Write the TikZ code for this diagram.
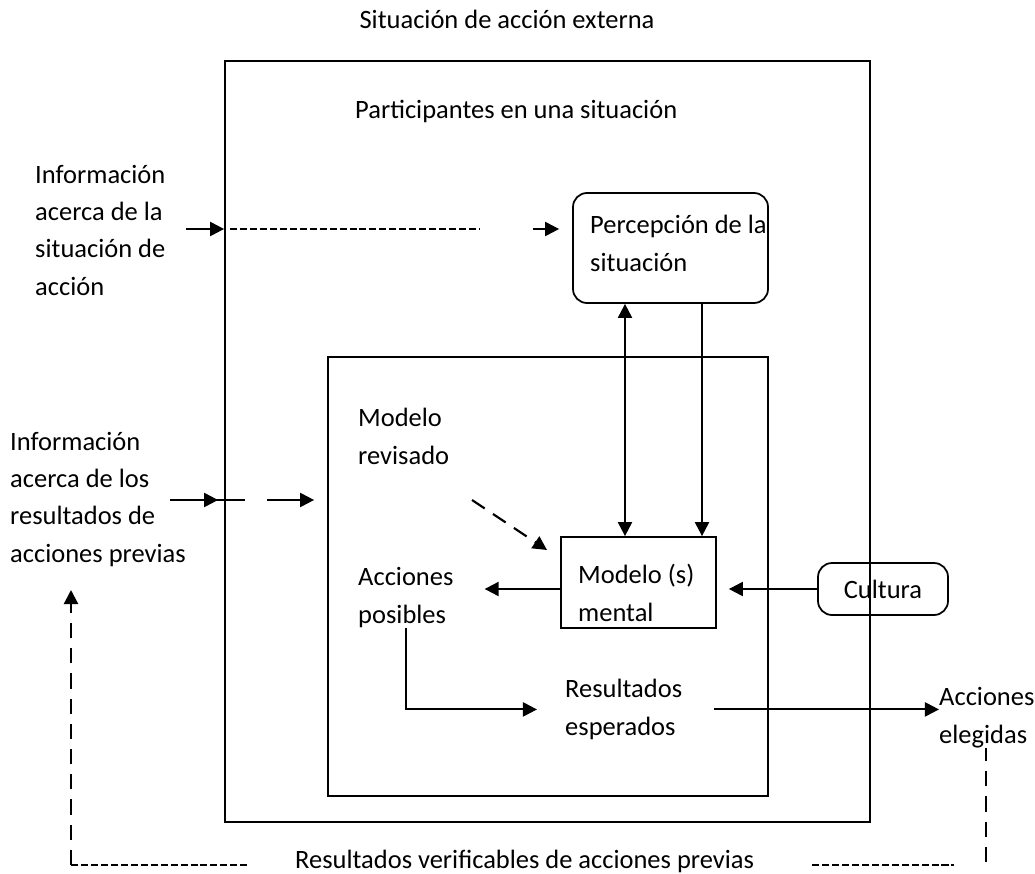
\documentclass[tikz,border=0pt]{standalone}
\usepackage{fontspec}
\setmainfont{Carlito}
\usepackage{tikz}
\usetikzlibrary{arrows.meta}
\newcommand{\diagfont}{\fontsize{22.6}{31.6}\selectfont}
\tikzstyle{box} = [rectangle, draw=black, line width=1.5pt, inner sep=0pt]
\tikzstyle{roundbox} = [box, rounded corners=12pt]
\tikzstyle{txt} = [inner sep=0pt, align=left, anchor=base west, font=\diagfont]
\tikzstyle{arrow} = [line width=1.8pt, -{Triangle[length=12pt, width=12pt]}]
\tikzstyle{dblarrow} = [line width=1.8pt, {Triangle[length=12pt, width=12pt]}-{Triangle[length=12pt, width=12pt]}]
\tikzstyle{shortdash} = [line width=1.2pt, dash pattern=on 6pt off 2.5pt]
\tikzstyle{longdash} = [line width=1.6pt, dash pattern=on 13pt off 8.5pt]

\begin{document}
\begin{tikzpicture}[x=0.03cm, y=-0.03cm]
	\useasboundingbox (0,0) rectangle (1035,874);
	% boxes
	\node (outer) [box, minimum width=19.35cm, minimum height=22.83cm] at (547.5,441.5) {};
	\node (inner) [box, minimum width=13.2cm, minimum height=13.17cm] at (548,576.5) {};
	\node (percep) [roundbox, minimum width=5.85cm, minimum height=3.3cm] at (670.5,248) {};
	\node (modelo) [box, minimum width=4.65cm, minimum height=2.73cm] at (638.5,582.5) {};
	\node (cultura) [roundbox, minimum width=3.9cm, minimum height=1.56cm, font=\diagfont] at (883,589) {Cultura};
	% texts (base = last line)
	\node (title) [txt, anchor=base] at (507,29) {Situación de acción externa};
	\node (partic) [txt] at (355,119) {Participantes en una situación};
	\node (infoSit) [txt] at (35,295) {Información\\acerca de la\\situación de\\acción};
	\node (infoRes) [txt] at (10,562) {Información\\acerca de los\\resultados de\\acciones previas};
	\node (percepTxt) [txt] at (590,271) {Percepción de la\\situación};
	\node (revisado) [txt] at (358,464) {Modelo\\revisado};
	\node (modeloTxt) [txt] at (578,621) {Modelo (s)\\mental};
	\node (posibles) [txt] at (358,623) {Acciones\\posibles};
	\node (esperados) [txt] at (565,735) {Resultados\\esperados};
	\node (elegidas) [txt] at (939,743) {Acciones\\elegidas};
	\node (verif) [txt] at (295,868) {Resultados verificables de acciones previas};
	% free ends
	\coordinate (inA) at (186,229);
	\coordinate (dA) at (230,229);
	\coordinate (dB) at (480,229);
	\coordinate (inB) at (533,229);
	\coordinate (inC) at (170,500);
	\coordinate (inD) at (245,500);
	\coordinate (inE) at (267,500);
	\coordinate (xa) at (625,0);
	\coordinate (xb) at (702,0);
	\coordinate (row) at (0,589);
	\coordinate (revTail) at (472,500);
	\coordinate (revHead) at (547,550);
	\coordinate (fbL) at (71,865);
	\coordinate (fbLtop) at (71,590);
	\coordinate (fbLend) at (247,865);
	\coordinate (fbR) at (986,862);
	\coordinate (fbRa) at (812,865);
	\coordinate (fbRb) at (954,865);
	% information in
	\draw [arrow] (inA) -- (inA -| outer.west);
	\draw [shortdash] (dA) -- (dB);
	\draw [arrow, shorten >=0.39cm] (inB) -- (inB -| percep.west);
	\draw [line width=1pt] (inC) -- (inD);
	\draw [arrow, shorten >=0.18cm] (inC) -- (inC -| outer.west);
	\draw [arrow, shorten >=0.39cm] (inE) -- (inE -| inner.west);
	% perception and mental model
	\draw [dblarrow] (xa |- percep.south) -- (xa |- modelo.north);
	\draw [arrow] (xb |- percep.south) -- (xb |- modelo.north);
	\draw [longdash, arrow] (revTail) -- (revHead);
	\draw [arrow, shorten >=0.36cm] (row -| cultura.west) -- (row -| modelo.east);
	\draw [arrow, shorten >=0.93cm] (row -| modelo.west) -- (row -| posibles.east);
	\draw [arrow, shorten >=0.84cm] (posibles.south) |- (esperados.west);
	\draw [arrow, shorten <=0.96cm] (esperados.east) -- (esperados.east -| elegidas.west);
	% verifiable results
	\draw [longdash, arrow] (fbL) -- (fbLtop);
	\draw [shortdash] (fbL) -- (fbLend);
	\draw [longdash] (fbR) -- (fbR |- elegidas.south);
	\draw [shortdash] (fbRa) -- (fbRb);
\end{tikzpicture}
\end{document}
